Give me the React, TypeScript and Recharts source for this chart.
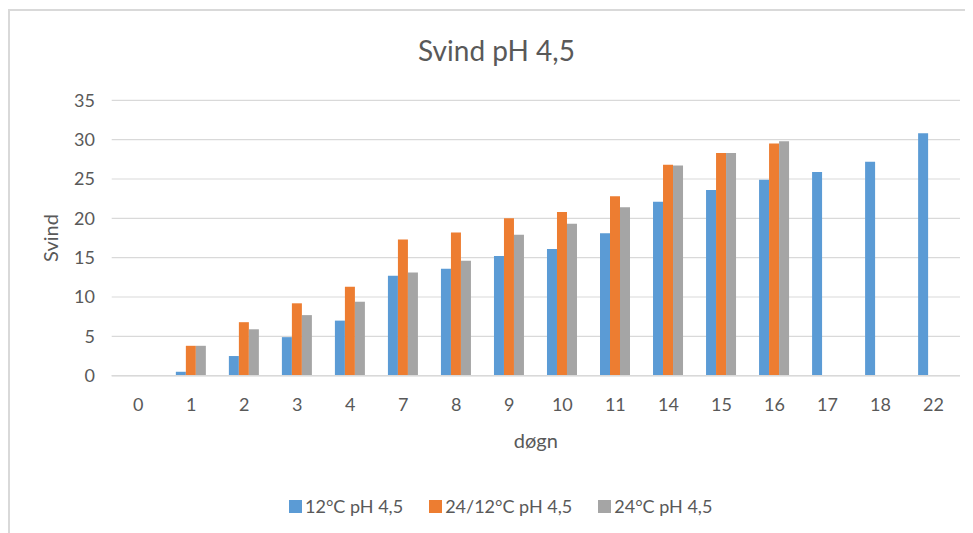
import React from 'react';
import { BarChart, Bar, XAxis, YAxis, CartesianGrid } from 'recharts';

const categories = ['0', '1', '2', '3', '4', '7', '8', '9', '10', '11', '14', '15', '16', '17', '18', '22'];
const series12 = [0, 0.5, 2.5, 4.9, 7.0, 12.7, 13.6, 15.2, 16.1, 18.1, 22.1, 23.6, 24.9, 25.9, 27.2, 30.8];
const series24_12 = [0, 3.8, 6.8, 9.2, 11.3, 17.3, 18.2, 20.0, 20.8, 22.8, 26.8, 28.3, 29.5, null, null, null];
const series24 = [0, 3.8, 5.9, 7.7, 9.4, 13.1, 14.6, 17.9, 19.3, 21.4, 26.7, 28.3, 29.8, null, null, null];
const yTicks = [0, 5, 10, 15, 20, 25, 30, 35];

const seriesMeta = [
  { key: 's12', name: '12°C pH 4,5', color: '#5B9BD5' },
  { key: 's2412', name: '24/12°C pH 4,5', color: '#ED7D31' },
  { key: 's24', name: '24°C pH 4,5', color: '#A5A5A5' },
];

const data = categories.map((c, i) => ({
  cat: c,
  s12: series12[i],
  s2412: series24_12[i],
  s24: series24[i],
}));

const FONT = 'Lato, "Open Sans", sans-serif';
const TXT = '#595959';

const YLabel = (props: any) => {
  const vb = props.viewBox || {};
  const cx = 42;
  const cy = vb.y + vb.height / 2;
  return (
    <text
      x={cx}
      y={cy}
      transform={`rotate(-90, ${cx}, ${cy})`}
      textAnchor="middle"
      dominantBaseline="central"
      fill={TXT}
      fontSize={20}
      fontFamily={FONT}
    >
      Svind
    </text>
  );
};

export default function App() {
  return (
    <div style={{ position: 'relative', width: 965, height: 525, fontFamily: FONT, background: '#fff' }}>
      <div
        style={{
          position: 'absolute',
          left: 0,
          top: 1,
          width: 965,
          height: 524,
          borderLeft: '2px solid #d9d9d9',
          borderTop: '2px solid #d9d9d9',
          boxSizing: 'border-box',
        }}
      />
      <div
        style={{
          position: 'absolute',
          left: 0,
          top: 28.2,
          width: 977,
          textAlign: 'center',
          fontSize: 28,
          lineHeight: '28px',
          color: TXT,
        }}
      >
        Svind pH 4,5
      </div>
      <div style={{ position: 'absolute', left: 0, top: 0 }}>
        <BarChart
          width={965}
          height={525}
          data={data}
          margin={{ top: 92.3, right: 13, left: 0, bottom: 127.3 }}
          barCategoryGap="21%"
          barGap={0}
        >
          <CartesianGrid vertical={false} stroke="#d9d9d9" strokeWidth={1.2} />
          <XAxis
            dataKey="cat"
            height={30}
            tickLine={false}
            tickSize={0}
            tickMargin={23}
            axisLine={{ stroke: '#d9d9d9', strokeWidth: 1.5 }}
            tick={{ fill: TXT, fontSize: 18, fontFamily: FONT }}
            interval={0}
            label={{ value: 'døgn', position: 'bottom', offset: 28, fill: TXT, fontSize: 20, fontFamily: FONT }}
          />
          <YAxis
            width={103.7}
            domain={[0, 35]}
            ticks={yTicks}
            tickLine={false}
            tickSize={0}
            tickMargin={16.7}
            axisLine={false}
            tick={{ fill: TXT, fontSize: 18, fontFamily: FONT }}
            label={<YLabel />}
          />
          {seriesMeta.map((s) => (
            <Bar key={s.key} dataKey={s.key} name={s.name} fill={s.color} isAnimationActive={false} />
          ))}
        </BarChart>
      </div>
      <div
        style={{
          position: 'absolute',
          left: 281,
          top: 489.3,
          display: 'flex',
          gap: 26,
          fontSize: 18,
          lineHeight: '18px',
          color: TXT,
          whiteSpace: 'nowrap',
        }}
      >
        {seriesMeta.map((s) => (
          <div key={s.key} style={{ display: 'flex', alignItems: 'center', gap: 3 }}>
            <span style={{ display: 'inline-block', width: 13, height: 13, background: s.color }} />
            <span>{s.name}</span>
          </div>
        ))}
      </div>
    </div>
  );
}
